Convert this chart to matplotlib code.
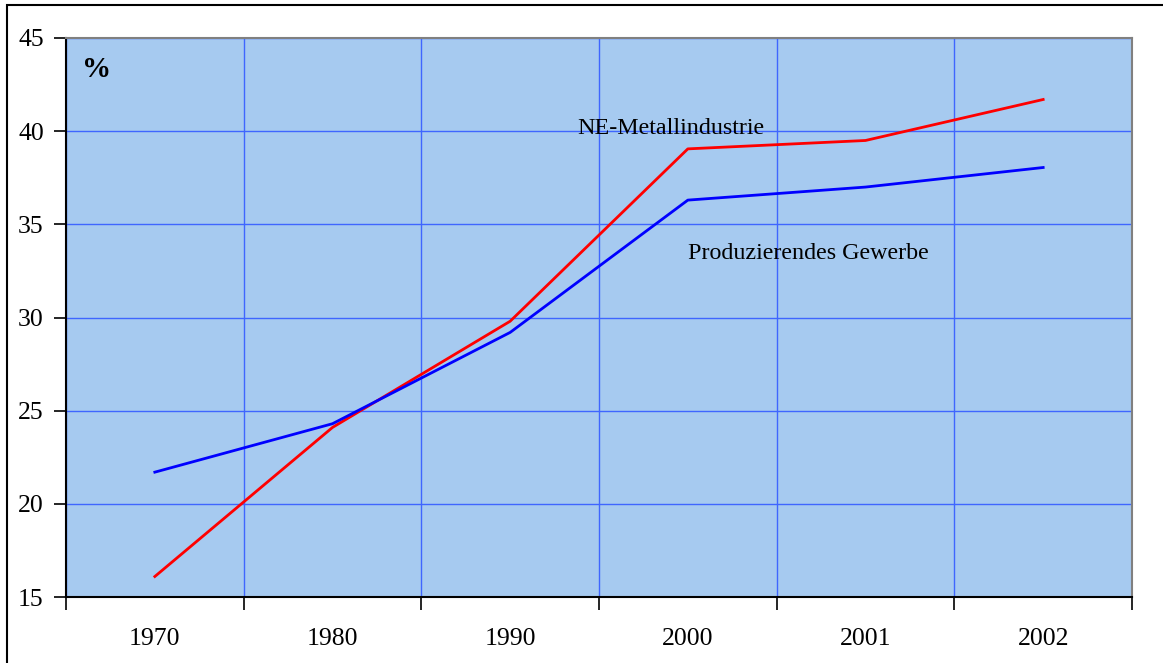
import matplotlib

matplotlib.use('Agg')
import matplotlib.pyplot as plt
from matplotlib.patches import Rectangle

years = ['1970', '1980', '1990', '2000', '2001', '2002']
ne_metall = [16.1, 24.1, 29.8, 39.05, 39.5, 41.7]
prod_gewerbe = [21.7, 24.3, 29.2, 36.3, 37.0, 38.05]

plt.rcParams['font.family'] = ['Liberation Serif', 'DejaVu Serif']

fig = plt.figure(figsize=(11.63, 6.63), dpi=100)
W, H = 1163, 663
ax = fig.add_axes([66 / W, (H - 597) / H, (1132 - 66) / W, (597 - 38) / H])
ax.set_facecolor('#A6CAF0')

x = list(range(len(years)))
ax.plot(x, ne_metall, color='#FF0000', linewidth=2, zorder=3)
ax.plot(x, prod_gewerbe, color='#0000FF', linewidth=2, zorder=3)

ax.set_xlim(-0.5, len(years) - 0.5)
ax.set_ylim(15, 45)
ax.set_yticks(range(15, 46, 5))
ax.set_xticks(x)
ax.set_xticklabels(years)
ax.set_xticks([i - 0.5 for i in range(len(years) + 1)], minor=True)

ax.grid(True, which='minor', axis='x', color='#3F66FF', linewidth=1)
ax.grid(True, which='major', axis='y', color='#3F66FF', linewidth=1)
ax.set_axisbelow(True)

ax.tick_params(axis='x', which='major', length=0, pad=22, labelsize=18.5)
ax.tick_params(axis='x', which='minor', direction='out', length=9, width=1.2)
ax.tick_params(axis='y', direction='out', length=9, width=1.2, pad=7, labelsize=18.5)

for s in ['left', 'bottom']:
    ax.spines[s].set_color('black')
    ax.spines[s].set_linewidth(1.5)
for s in ['top', 'right']:
    ax.spines[s].set_color('#808080')
    ax.spines[s].set_linewidth(1.5)

ax.text(-0.41, 43.3, '%', fontsize=21, fontweight='bold', va='center', ha='left')
ax.text(2.38, 40.15, 'NE-Metallindustrie', fontsize=17.3, va='center', ha='left')
ax.text(3.0, 33.45, 'Produzierendes Gewerbe', fontsize=17.3, va='center', ha='left')

# outer frame
fig.patches.append(Rectangle((7 / W, -0.01), (1175 - 7) / W, (H - 5) / H + 0.01,
                             transform=fig.transFigure, fill=False,
                             edgecolor='black', linewidth=1.5))

fig.savefig('out.png', dpi=100)
